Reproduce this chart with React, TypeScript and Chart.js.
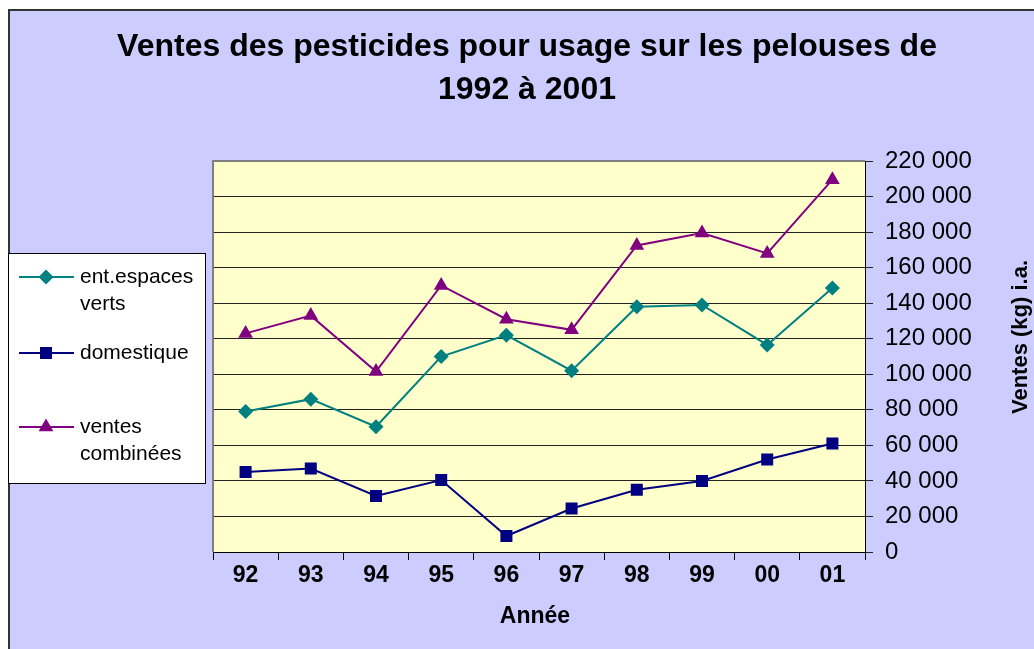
import React, { useEffect, useRef } from 'react';
import { Chart, registerables } from 'chart.js';

Chart.register(...registerables);

const years = ['92', '93', '94', '95', '96', '97', '98', '99', '00', '01'];
const espacesVerts = [79000, 86000, 70500, 110000, 122000, 102000, 138000, 139000, 116500, 148500];
const domestique = [45000, 47000, 31500, 40500, 9000, 24500, 35000, 40000, 52000, 61000];
const ventesCombinees = [123000, 133000, 101500, 150000, 131000, 125000, 172500, 179500, 168000, 209500];
const seriesNames = ['ent.espaces verts', 'domestique', 'ventes combinées'];
const legendLines = [['ent.espaces', 'verts'], ['domestique'], ['ventes', 'combinées']];
const seriesColors = ['#008080', '#000080', '#800080'];
const seriesMarkers = ['rectRot', 'rect', 'triangle'];
const yMin = 0;
const yMax = 220000;
const yStep = 20000;
const titleLines = ['Ventes des pesticides pour usage sur les pelouses de', '1992 à 2001'];
const xTitle = 'Année';
const yTitle = 'Ventes (kg) i.a.';

const FONT = '"Liberation Sans", Arial, sans-serif';
const RADII = [7.5, 8.5, 8.5];

function fmt(v: number): string {
  return String(Math.round(v)).replace(/\B(?=(\d{3})+(?!\d))/g, ' ');
}

function drawMarker(ctx: CanvasRenderingContext2D, style: string, x: number, y: number, r: number, color: string) {
  ctx.save();
  ctx.fillStyle = color;
  ctx.beginPath();
  if (style === 'rect') {
    const s = Math.SQRT1_2 * r;
    ctx.rect(x - s, y - s, 2 * s, 2 * s);
  } else if (style === 'rectRot') {
    ctx.moveTo(x, y - r);
    ctx.lineTo(x + r, y);
    ctx.lineTo(x, y + r);
    ctx.lineTo(x - r, y);
    ctx.closePath();
  } else {
    ctx.moveTo(x, y - r);
    ctx.lineTo(x + r * Math.sin(Math.PI * 2 / 3), y + r / 2);
    ctx.lineTo(x - r * Math.sin(Math.PI * 2 / 3), y + r / 2);
    ctx.closePath();
  }
  ctx.fill();
  ctx.restore();
}

const decorPlugin = {
  id: 'decor',
  beforeDraw(chart: any) {
    const { ctx, chartArea: a, width, height } = chart;
    ctx.save();
    ctx.fillStyle = '#ffffff';
    ctx.fillRect(0, 0, width, height);
    ctx.fillStyle = '#CCCCFF';
    ctx.fillRect(8, 9, width - 8, height - 9);
    ctx.strokeStyle = '#333333';
    ctx.lineWidth = 2;
    ctx.beginPath();
    ctx.moveTo(9, height);
    ctx.lineTo(9, 10);
    ctx.lineTo(width, 10);
    ctx.stroke();
    ctx.fillStyle = '#FFFFCC';
    ctx.fillRect(a.left, a.top, a.right - a.left, a.bottom - a.top);
    ctx.restore();
  },
  beforeDatasetsDraw(chart: any) {
    const { ctx, chartArea: a } = chart;
    ctx.save();
    ctx.strokeStyle = '#808080';
    ctx.lineWidth = 2;
    ctx.beginPath();
    ctx.moveTo(a.left, a.bottom);
    ctx.lineTo(a.left, a.top);
    ctx.lineTo(a.right, a.top);
    ctx.stroke();
    ctx.restore();
  },
  afterDraw(chart: any) {
    const { ctx } = chart;
    ctx.save();
    ctx.fillStyle = '#000';
    ctx.textAlign = 'center';
    ctx.textBaseline = 'middle';
    ctx.font = `bold 32px ${FONT}`;
    ctx.fillText(titleLines[0], 527, 47);
    ctx.fillText(titleLines[1], 527, 90);

    ctx.font = `bold 23px ${FONT}`;
    ctx.fillText(xTitle, 535, 617);

    ctx.save();
    ctx.translate(1021, 337);
    ctx.rotate(-Math.PI / 2);
    ctx.font = `bold 22px ${FONT}`;
    ctx.fillText(yTitle, 0, 0);
    ctx.restore();

    // legend
    ctx.fillStyle = '#ffffff';
    ctx.fillRect(8, 253, 197, 230);
    ctx.strokeStyle = '#000';
    ctx.lineWidth = 1;
    ctx.strokeRect(8.5, 253.5, 197, 230);
    const itemY = [277, 353, 427];
    ctx.textAlign = 'left';
    ctx.font = `21px ${FONT}`;
    chart.data.datasets.forEach((ds: any, i: number) => {
      const y = itemY[i];
      ctx.strokeStyle = seriesColors[i];
      ctx.lineWidth = 2;
      ctx.beginPath();
      ctx.moveTo(19, y);
      ctx.lineTo(74, y);
      ctx.stroke();
      drawMarker(ctx, seriesMarkers[i], 46, y, RADII[i], seriesColors[i]);
      ctx.fillStyle = '#000';
      legendLines[i].forEach((t, j) => ctx.fillText(t, 80, y + j * 27));
    });
    ctx.restore();
  },
};

export default function App() {
  const ref = useRef<HTMLCanvasElement | null>(null);
  useEffect(() => {
    if (!ref.current) return;
    const series = [espacesVerts, domestique, ventesCombinees];
    const chart = new Chart(ref.current, {
      type: 'line',
      data: {
        labels: years,
        datasets: series.map((d, i) => ({
          label: seriesNames[i],
          data: d,
          borderColor: seriesColors[i],
          backgroundColor: seriesColors[i],
          pointBackgroundColor: seriesColors[i],
          pointBorderColor: seriesColors[i],
          pointBorderWidth: 0,
          pointStyle: seriesMarkers[i] as any,
          pointRadius: RADII[i],
          borderWidth: 2,
          fill: false,
          tension: 0,
        })),
      },
      options: {
        animation: false,
        responsive: false,
        layout: { padding: { left: 213, top: 161, right: 49, bottom: 57 } },
        plugins: { legend: { display: false }, title: { display: false }, tooltip: { enabled: false } },
        scales: {
          x: {
            type: 'category',
            offset: true,
            grid: { offset: true, drawOnChartArea: false, drawTicks: true, tickLength: 8, color: '#000', lineWidth: 1 },
            border: { color: '#000', width: 1 },
            ticks: { font: { family: FONT, size: 23, weight: 'bold' }, color: '#000', padding: 2, maxRotation: 0, autoSkip: false },
            afterFit(s: any) { s.height = 40; },
          },
          y: {
            position: 'right',
            min: yMin,
            max: yMax,
            grid: { color: '#222', lineWidth: 1, drawTicks: true, tickLength: 8 },
            border: { color: '#000', width: 1 },
            ticks: {
              stepSize: yStep,
              color: '#000',
              padding: 12,
              font: { family: FONT, size: 24 },
              callback: (v: any) => fmt(Number(v)),
            },
            afterFit(s: any) { s.width = 120; },
          },
        },
      } as any,
      plugins: [decorPlugin],
    });
    return () => chart.destroy();
  }, []);
  return (
    <div style={{ position: 'fixed', left: 0, top: 0, width: 1034, height: 649 }}>
      <canvas ref={ref} width={1034} height={649} style={{ width: 1034, height: 649, display: 'block' }} />
    </div>
  );
}
